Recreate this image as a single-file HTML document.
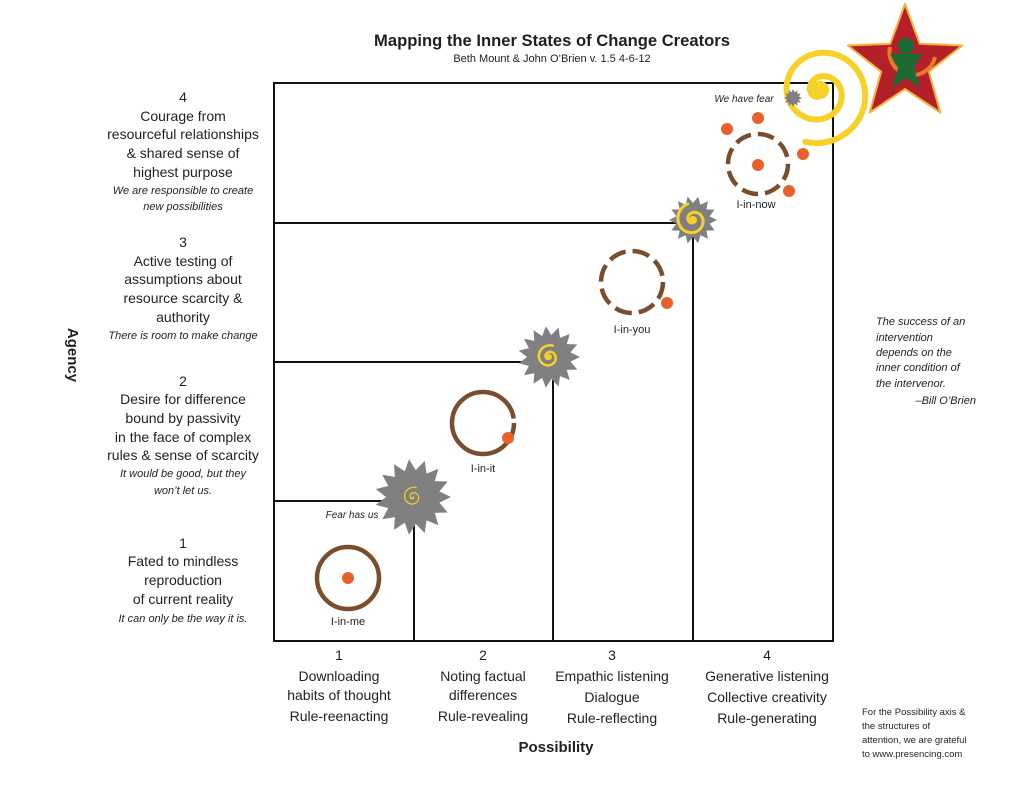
<!DOCTYPE html>
<html><head><meta charset="utf-8"><style>
html,body{margin:0;padding:0;background:#fff;}
svg{display:block;font-family:"Liberation Sans",sans-serif;}
.m{font-size:14px;fill:#231f20;text-anchor:middle;}
.i{font-size:11px;font-style:italic;fill:#231f20;text-anchor:middle;}
.l{font-size:11px;fill:#231f20;text-anchor:middle;}
</style></head><body>
<svg id="s" width="1024" height="791" viewBox="0 0 1024 791" xmlns="http://www.w3.org/2000/svg">
<text x="552" y="46" text-anchor="middle" font-size="16.6" font-weight="bold" fill="#231f20">Mapping the Inner States of Change Creators</text>
<text x="552" y="62" text-anchor="middle" font-size="11" fill="#231f20">Beth Mount &amp; John O’Brien v. 1.5 4-6-12</text>
<g stroke="#111" stroke-width="2" fill="none">
<rect x="274" y="83" width="559" height="558"/>
<polyline points="274,501 414,501 414,641"/>
<polyline points="274,362 553,362 553,641"/>
<polyline points="274,223 693,223 693,641"/>
</g>
<g id="dyn"></g>
<g fill="none" stroke="#7a4e2d" stroke-width="4.5">
<circle cx="348" cy="578" r="31"/>
<circle cx="483" cy="423" r="31" stroke-dasharray="190 5"/>
<circle cx="632" cy="282" r="31" stroke-dasharray="17.4 7"/>
<circle cx="758" cy="164" r="30" stroke-dasharray="16.5 7"/>
</g>
<g fill="#e8602c">
<circle cx="348" cy="578" r="6"/>
<circle cx="508" cy="438" r="6"/>
<circle cx="667" cy="303" r="6"/>
<circle cx="758" cy="165" r="6"/>
<circle cx="758" cy="118" r="6"/>
<circle cx="727" cy="129" r="6"/>
<circle cx="803" cy="154" r="6"/>
<circle cx="789" cy="191" r="6"/>
</g>
<text class="l" x="348" y="625">I-in-me</text>
<text class="l" x="483" y="472">I-in-it</text>
<text class="l" x="632" y="333">I-in-you</text>
<text class="l" x="756" y="208">I-in-now</text>
<text x="352" y="518" font-size="10" font-style="italic" text-anchor="middle" fill="#231f20">Fear has us</text>
<text x="744" y="102" font-size="10" font-style="italic" text-anchor="middle" fill="#231f20">We have fear</text>
<text class="m" x="183" y="102">4</text>
<text class="m" x="183" y="121">Courage from</text>
<text class="m" x="183" y="139">resourceful relationships</text>
<text class="m" x="183" y="158">&amp; shared sense of</text>
<text class="m" x="183" y="177">highest purpose</text>
<text class="i" x="183" y="194">We are responsible to create</text>
<text class="i" x="183" y="210">new possibilities</text>
<text class="m" x="183" y="247">3</text>
<text class="m" x="183" y="266">Active testing of</text>
<text class="m" x="183" y="284">assumptions about</text>
<text class="m" x="183" y="303">resource scarcity &amp;</text>
<text class="m" x="183" y="322">authority</text>
<text class="i" x="183" y="339">There is room to make change</text>
<text class="m" x="183" y="386">2</text>
<text class="m" x="183" y="404">Desire for difference</text>
<text class="m" x="183" y="423">bound by passivity</text>
<text class="m" x="183" y="442">in the face of complex</text>
<text class="m" x="183" y="460">rules &amp; sense of scarcity</text>
<text class="i" x="183" y="477">It would be good, but they</text>
<text class="i" x="183" y="494">won’t let us.</text>
<text class="m" x="183" y="548">1</text>
<text class="m" x="183" y="566">Fated to mindless</text>
<text class="m" x="183" y="585">reproduction</text>
<text class="m" x="183" y="604">of current reality</text>
<text class="i" x="183" y="622">It can only be the way it is.</text>
<text x="68" y="355" transform="rotate(90 68 355)" text-anchor="middle" font-size="15" font-weight="bold" fill="#231f20">Agency</text>
<text class="m" x="339" y="660">1</text>
<text class="m" x="339" y="681">Downloading</text>
<text class="m" x="339" y="700">habits of thought</text>
<text class="m" x="339" y="721">Rule-reenacting</text>
<text class="m" x="483" y="660">2</text>
<text class="m" x="483" y="681">Noting factual</text>
<text class="m" x="483" y="700">differences</text>
<text class="m" x="483" y="721">Rule-revealing</text>
<text class="m" x="612" y="660">3</text>
<text class="m" x="612" y="681">Empathic listening</text>
<text class="m" x="612" y="702">Dialogue</text>
<text class="m" x="612" y="723">Rule-reflecting</text>
<text class="m" x="767" y="660">4</text>
<text class="m" x="767" y="681">Generative listening</text>
<text class="m" x="767" y="702">Collective creativity</text>
<text class="m" x="767" y="723">Rule-generating</text>
<text x="556" y="752" text-anchor="middle" font-size="15" font-weight="bold" fill="#231f20">Possibility</text>
<g font-size="11" font-style="italic" fill="#231f20">
<text x="876" y="325">The success of an</text>
<text x="876" y="341">intervention</text>
<text x="876" y="356">depends on the</text>
<text x="876" y="371">inner condition of</text>
<text x="876" y="387">the intervenor.</text>
<text x="976" y="404" text-anchor="end">–Bill O’Brien</text>
</g>
<g font-size="9.5" fill="#231f20">
<text x="862" y="715">For the Possibility axis &amp;</text>
<text x="862" y="729">the structures of</text>
<text x="862" y="743">attention, we are grateful</text>
<text x="862" y="757">to www.presencing.com</text>
</g>
</svg>
<script>
(function(){
var ns="http://www.w3.org/2000/svg",g=document.getElementById("dyn");
function el(t,a){var e=document.createElementNS(ns,t);for(var k in a)e.setAttribute(k,a[k]);g.appendChild(e);return e;}
function spiral(cx,cy,rmax,turns,w,col,rot){var p=[],n=200;for(var i=0;i<=n;i++){var t=i/n,a=rot+t*turns*2*Math.PI,r=rmax*t;p.push((cx+r*Math.cos(a)).toFixed(1)+","+(cy+r*Math.sin(a)).toFixed(1));}
el("polyline",{points:p.join(" "),fill:"none",stroke:col,"stroke-width":w,"stroke-linecap":"round"});}
function gear(cx,cy,ro,ri,n){var p=[];for(var i=0;i<2*n;i++){var r=i%2?ri:ro,a=i*Math.PI/n;p.push((cx+r*Math.cos(a)).toFixed(1)+","+(cy+r*Math.sin(a)).toFixed(1));}
el("polygon",{points:p.join(" "),fill:"#808080"});}
spiral(820,92,52,2.2,6,"#f7d02a",0.6);
el("circle",{cx:820,cy:90,r:9,fill:"#f7d02a"});
var sp=[];for(var i=0;i<10;i++){var r=i%2?25:60,a=-Math.PI/2+i*Math.PI/5;sp.push((905+r*Math.cos(a)).toFixed(1)+","+(64+r*Math.sin(a)).toFixed(1));}
el("polygon",{points:sp.join(" "),fill:"#b3202a",stroke:"#f3b13a","stroke-width":2,"stroke-linejoin":"round"});
el("path",{d:"M890 47 A20 20 0 1 0 935 57",fill:"none",stroke:"#e87a2a","stroke-width":4});
el("circle",{cx:906,cy:46,r:8,fill:"#1d6b34"});
el("polygon",{points:"890,54 922,54 914,68 920,88 906,78 892,88 898,68",fill:"#1d6b34"});
gear(413,497,38,27,15);spiral(413,497,10,1.8,1.2,"#f7d02a",0);
gear(549,357,31,22,15);spiral(549,357,12,1.8,2.5,"#f7d02a",0);el("circle",{cx:549,cy:357,r:3,fill:"#f7d02a"});
gear(693,220,24,17,14);spiral(693,220,17,1.7,3,"#f7d02a",0);el("circle",{cx:693,cy:220,r:4,fill:"#f7d02a"});
gear(793,98,9,6,12);
})();
</script>
</body></html>
